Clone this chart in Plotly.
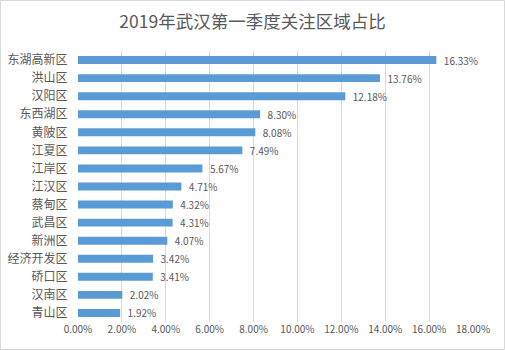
import plotly.graph_objects as go

categories = ["东湖高新区", "洪山区", "汉阳区", "东西湖区", "黄陂区", "江夏区", "江岸区", "江汉区",
              "蔡甸区", "武昌区", "新洲区", "经济开发区", "硚口区", "汉南区", "青山区"]
values = [16.33, 13.76, 12.18, 8.30, 8.08, 7.49, 5.67, 4.71, 4.32, 4.31, 4.07, 3.42, 3.41, 2.02, 1.92]
tick_vals = [0, 2, 4, 6, 8, 10, 12, 14, 16, 18]
tick_text = ["%.2f%%" % v for v in tick_vals]

W, H = 505, 350
ml, mr, mt, mb = 78, 32, 51, 28
pw, ph = W - ml - mr, H - mt - mb

font = "Noto Sans CJK SC, Microsoft YaHei, sans-serif"
grey = "#595959"

fig = go.Figure(go.Bar(
    x=values, y=categories, orientation="h",
    marker=dict(color="#5b9bd5", line=dict(width=0)),
    width=0.44,
    text=["\u00a0\u00a0%.2f%%" % v for v in values], textposition="outside",
    constraintext="none",
    textfont=dict(size=10, color=grey, family=font),
    cliponaxis=False,
))

fig.update_layout(
    width=W, height=H,
    margin=dict(l=ml, r=mr, t=mt, b=mb, autoexpand=False),
    paper_bgcolor="white", plot_bgcolor="white",
    title=dict(text="2019年武汉第一季度关注区域占比", x=0.5, xanchor="center",
               y=1 - 22 / H, yanchor="middle",
               font=dict(size=17.5, color=grey, family=font)),
    showlegend=False,
    xaxis=dict(range=[0, 18], tickvals=tick_vals, ticktext=tick_text,
               showgrid=True, gridcolor="#d9d9d9", gridwidth=1,
               zeroline=False, showline=False, automargin=False,
               tickfont=dict(size=10, color=grey, family=font), ticks=""),
    yaxis=dict(autorange="reversed", showgrid=False, showline=False, zeroline=False,
               automargin=False,
               tickfont=dict(size=12, color=grey, family=font),
               ticks="outside", ticklen=7, tickcolor="rgba(0,0,0,0)"),
    shapes=[dict(type="rect", xref="paper", yref="paper",
                 x0=-(ml - 0.5) / pw, x1=1 + (mr - 0.5) / pw,
                 y0=-(mb - 0.5) / ph, y1=1 + (mt - 0.5) / ph,
                 line=dict(color="#d9d9d9", width=1), layer="below")],
)

fig.write_html("out.html")
